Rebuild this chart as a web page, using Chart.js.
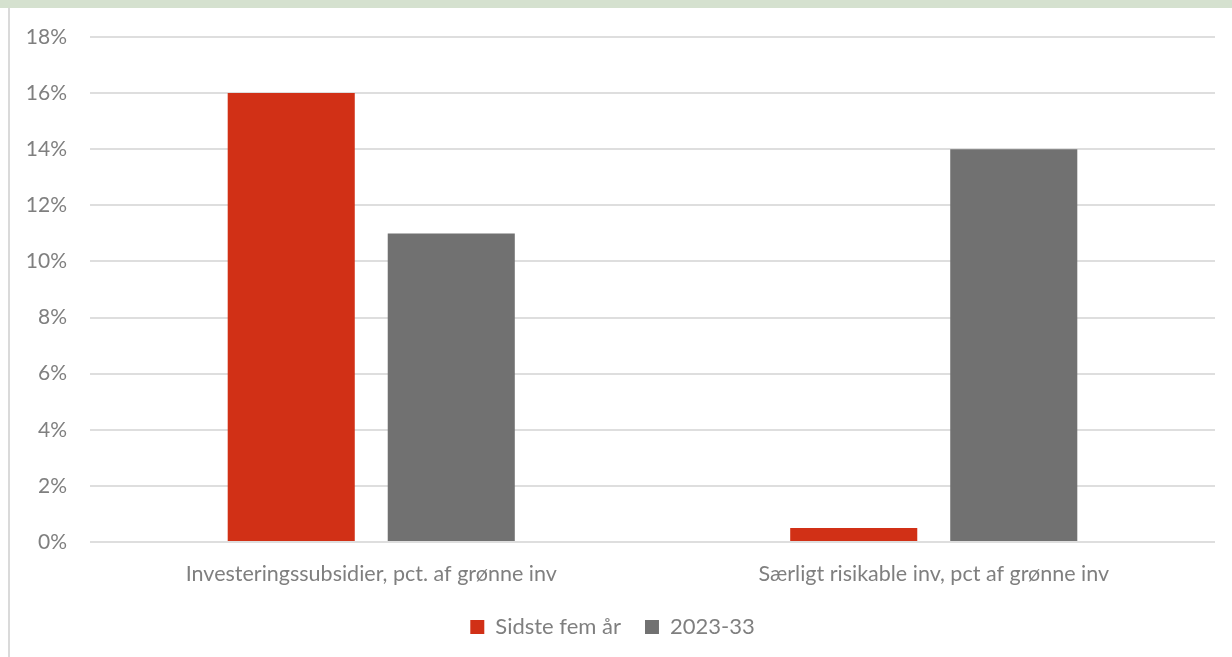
<!DOCTYPE html>
<html>
<head>
<meta charset="utf-8">
<script src="https://cdn.jsdelivr.net/npm/chart.js@4/dist/chart.umd.min.js"></script>
<style>
  html, body { margin: 0; padding: 0; background: #fff; }
  body { width: 1232px; height: 657px; position: relative; overflow: hidden; }
  #band { position: absolute; left: 0; top: 0; width: 1232px; height: 8px; background: #d5e1cf; }
  #frame { position: absolute; left: 8px; top: 8px; width: 1224px; height: 649px; border-left: 2px solid #dadada; box-sizing: border-box; }
  #wrap { position: absolute; left: 10px; top: 8px; width: 1222px; height: 649px; }
</style>
</head>
<body>
<div id="band"></div>
<div id="frame"></div>
<div id="wrap"><canvas id="graph"></canvas></div>
<script>
const categories = ['Investeringssubsidier, pct. af grønne inv', 'Særligt risikable inv, pct af grønne inv'];
const lastFiveYears = [16, 0.5];
const period2023to33 = [11, 14];
const yTicks = [0, 2, 4, 6, 8, 10, 12, 14, 16, 18];

const textColor = '#7f7f7f';
const fontFamily = 'Lato, "Open Sans", sans-serif';

let graph = document.getElementById('graph').getContext('2d');

new Chart(graph, {
  type: 'bar',
  data: {
    labels: categories,
    datasets: [
      {
        label: 'Sidste fem år',
        data: lastFiveYears,
        backgroundColor: '#d13016',
        categoryPercentage: 0.569,
        barPercentage: 0.794
      },
      {
        label: '2023-33',
        data: period2023to33,
        backgroundColor: '#717171',
        categoryPercentage: 0.569,
        barPercentage: 0.794
      }
    ]
  },
  options: {
    responsive: true,
    maintainAspectRatio: false,
    animation: false,
    layout: { padding: { top: 29, right: 17, bottom: 9, left: 0 } },
    plugins: {
      tooltip: { enabled: false },
      legend: {
        position: 'bottom',
        labels: {
          boxWidth: 14,
          boxHeight: 14,
          padding: 24,
          color: textColor,
          font: { family: fontFamily, size: 22 }
        }
      }
    },
    scales: {
      x: {
        afterFit: (scale) => { scale.height = 50; },
        grid: { display: false, drawTicks: false },
        border: { display: false },
        ticks: {
          color: textColor,
          padding: 19,
          font: { family: fontFamily, size: 21.5 }
        }
      },
      y: {
        min: 0,
        max: 18,
        afterFit: (scale) => {
          scale.width = 80;
          scale.paddingTop = 0;
          scale.paddingBottom = 0;
        },
        afterBuildTicks: (scale) => { scale.ticks = yTicks.map(v => ({ value: v })); },
        grid: { color: '#dedede', lineWidth: 2, drawTicks: false },
        border: { display: false },
        ticks: {
          color: textColor,
          padding: 23,
          font: { family: fontFamily, size: 21 },
          callback: (v) => v + '%'
        }
      }
    }
  }
});
</script>
</body>
</html>
